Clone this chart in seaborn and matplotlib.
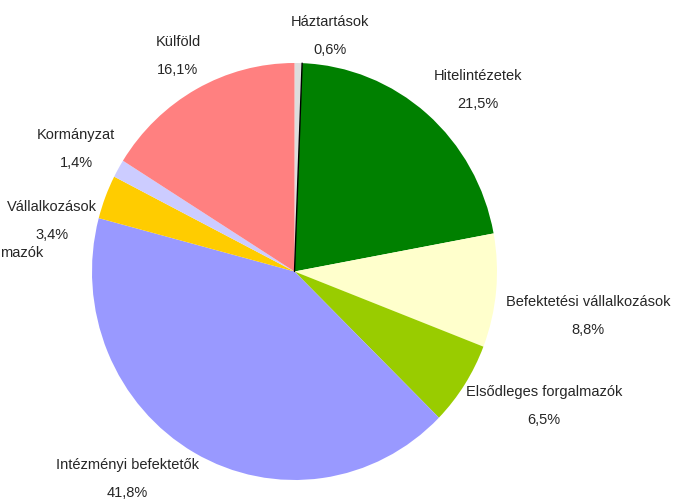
import numpy as np
import matplotlib.pyplot as plt
import seaborn as sns

sns.set_theme(style='white')
plt.rcParams['font.family'] = ['Liberation Sans Narrow', 'Liberation Sans', 'DejaVu Sans']

# data, clockwise from the top
categories = ['Háztartások', 'Hitelintézetek', 'Befektetési vállalkozások',
              'Elsődleges forgalmazók', 'Intézményi befektetők', 'Vállalkozások',
              'Kormányzat', 'Külföld']
shares = [0.6, 21.5, 8.8, 6.5, 41.8, 3.4, 1.4, 16.1]
labels = ['0,6%', '21,5%', '8,8%', '6,5%', '41,8%', '3,4%', '1,4%', '16,1%']
colors = ['#DDDDDD', '#008000', '#FFFFCC', '#99CC00', '#9999FF', '#FFCC00',
          '#CCCCFF', '#FF8080']

# label centres in pixels (name line, value line below)
label_pos = [(330, 22), (478, 76), (588, 302), (544, 392), (127, 465),
             (52, 207), (76, 135), (178, 42)]

W, H = 673, 503
cx, cy, rx, ry = 294.5, 271.5, 202.5, 208.5

fig = plt.figure(figsize=(W / 100, H / 100), dpi=100)
ax = fig.add_axes([0, 0, 1, 1])
ax.pie(shares, colors=colors, startangle=90, counterclock=False,
       wedgeprops=dict(linewidth=0))
ax.set_aspect('auto')
ax.set_xlim(-cx / rx, (W - cx) / rx)
ax.set_ylim(-(H - cy) / ry, cy / ry)
ax.axis('off')

# thin dark edge after the household slice
ang = np.deg2rad(90 - shares[0] / sum(shares) * 360)
ax.plot([0, np.cos(ang)], [0, np.sin(ang)], color='black', lw=1)

for name, val, (px, py) in zip(categories, labels, label_pos):
    fig.text(px / W, 1 - py / H, name, ha='center', va='center', fontsize=10.5)
    fig.text(px / W, 1 - (py + 28) / H, val, ha='center', va='center', fontsize=10.5)

# clipped label fragment at the left edge
fig.text(0, 1 - 253 / H, 'mazók', ha='left', va='center', fontsize=10.5)

fig.savefig('out.png', dpi=100)
